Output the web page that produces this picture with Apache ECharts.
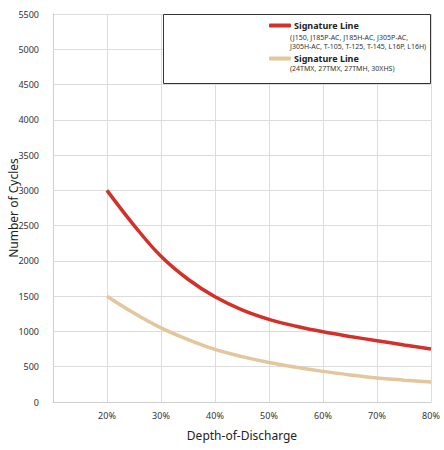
<!DOCTYPE html>
<html>
<head>
<meta charset="utf-8">
<style>
  html, body { margin: 0; padding: 0; background: #fff; }
  #Chart { width: 444px; height: 450px; }
</style>
<script src="https://cdn.jsdelivr.net/npm/echarts@6/dist/echarts.min.js"></script>
</head>
<body>
<div id="Chart"></div>
<script>
// depth of discharge, %
const depth = [20, 25, 30, 35, 40, 45, 50, 55, 60, 65, 70, 75, 80]
// cycles
const redCycles = [3000, 2505, 2065, 1740, 1492, 1307, 1172, 1074, 995, 929, 869, 809, 752]
const tanCycles = [1500, 1260, 1050, 885, 745, 643, 560, 492, 434, 384, 340, 310, 284]
const seriesNames = ["Signature Line", "Signature Line "]
const subLines = [
  "(J150, J185P-AC, J185H-AC, J305P-AC,\nJ305H-AC, T-105, T-125, T-145, L16P, L16H)",
  "(24TMX, 27TMX, 27TMH, 30XHS)"
]

const font = "\"Noto Sans\", \"Open Sans\", sans-serif"
const chart = echarts.init(document.getElementById("Chart"), null, { renderer: "svg" })

const pairs = (ys) => depth.map((x, i) => [x, ys[i]])

const option = {
  animation: false,
  textStyle: { fontFamily: font },
  grid: { left: 53, right: 13, top: 14, bottom: 48, outerBoundsMode: "none", containLabel: false },
  xAxis: {
    type: "value",
    min: 10,
    max: 80,
    interval: 10,
    name: "Depth-of-Discharge",
    nameLocation: "middle",
    nameGap: 27,
    nameMoveOverlap: false,
    nameTextStyle: { fontSize: 12, color: "#222" },
    axisLine: { lineStyle: { color: "#cfcfcf" } },
    axisTick: { show: false },
    axisLabel: {
      fontSize: 9,
      color: "#333",
      margin: 9,
      formatter: v => (v === 10 ? "" : v + "%")
    },
    splitLine: { show: true, lineStyle: { color: "#dcdcdc" } }
  },
  yAxis: {
    type: "value",
    min: 0,
    max: 5500,
    interval: 500,
    name: "Number of Cycles",
    nameLocation: "middle",
    nameGap: 34,
    nameMoveOverlap: false,
    nameTextStyle: { fontSize: 12, color: "#222" },
    axisLine: { show: true, lineStyle: { color: "#cfcfcf" } },
    axisTick: { show: false },
    axisLabel: { fontSize: 9, color: "#333", margin: 14, formatter: v => String(v) },
    splitLine: { lineStyle: { color: "#dcdcdc" } }
  },
  legend: {
    orient: "vertical",
    left: 264,
    top: 16,
    z: 30,
    itemWidth: 22,
    itemHeight: 4,
    itemGap: 24,
    icon: "roundRect",
    data: seriesNames,
    textStyle: { fontSize: 9, fontWeight: "bold", color: "#222", padding: [0, 0, 0, -2] }
  },
  graphic: [
    {
      type: "rect",
      left: 163,
      top: 14,
      z: 10,
      shape: { width: 267, height: 69 },
      style: { fill: "#fff", stroke: "#333", lineWidth: 1 },
      silent: true
    },
    {
      type: "text",
      left: 290,
      top: 33,
      z: 11,
      style: { text: subLines[0], font: "7px " + font, fill: "#333", lineHeight: 9 }
    },
    {
      type: "text",
      left: 290,
      top: 65,
      z: 11,
      style: { text: subLines[1], font: "7px " + font, fill: "#333" }
    }
  ],
  series: [
    {
      name: seriesNames[0],
      type: "line",
      smooth: 0.4,
      showSymbol: false,
      lineStyle: { width: 3.5, color: "#d3302a" },
      itemStyle: { color: "#d3302a" },
      data: pairs(redCycles)
    },
    {
      name: seriesNames[1],
      type: "line",
      smooth: 0.4,
      showSymbol: false,
      lineStyle: { width: 3.5, color: "#e4c69c" },
      itemStyle: { color: "#e4c69c" },
      data: pairs(tanCycles)
    }
  ]
}
chart.setOption(option)
</script>
</body>
</html>
